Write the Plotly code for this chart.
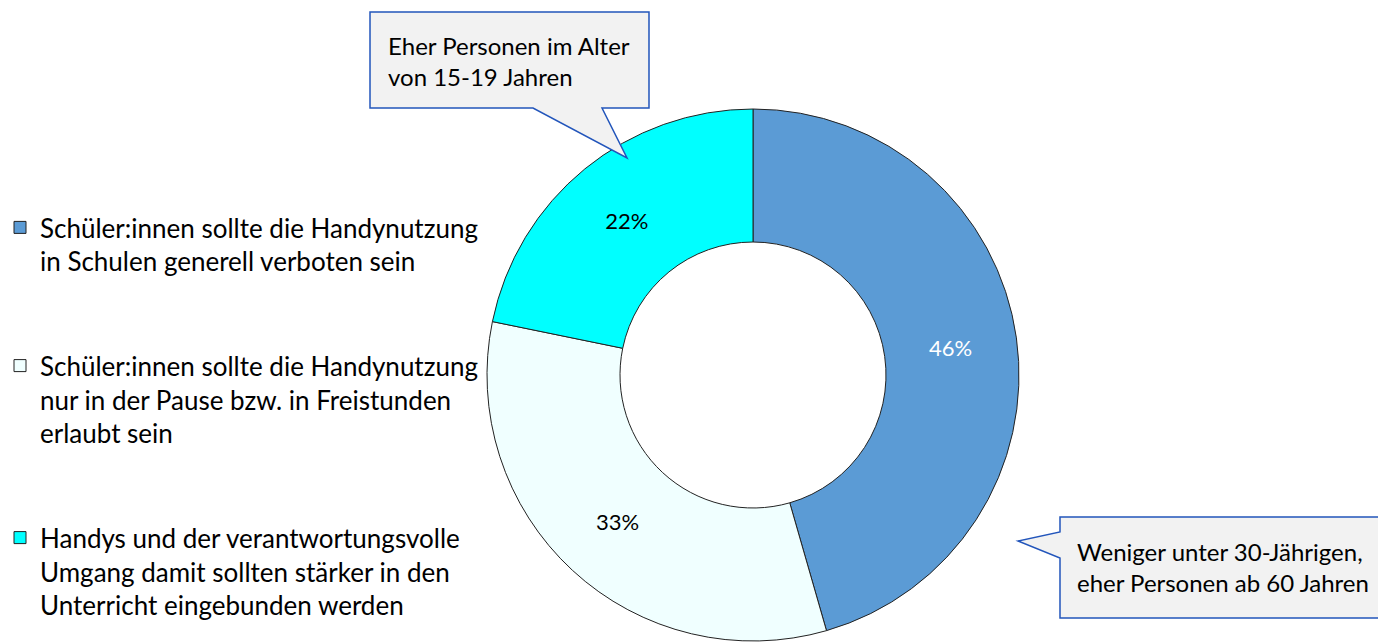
import plotly.graph_objects as go

# chart data
labels = [
    'Schüler:innen sollte die Handynutzung<br>in Schulen generell verboten sein<br> <br> ',
    'Schüler:innen sollte die Handynutzung<br>nur in der Pause bzw. in Freistunden<br>erlaubt sein<br> <br> ',
    'Handys und der verantwortungsvolle<br>Umgang damit sollten stärker in den<br>Unterricht eingebunden werden',
]
values = [46, 33, 22]
value_labels = ['46%', '33%', '22%']
colors = ['#5B9BD5', '#F0FFFF', '#00FFFF']
text_colors = ['white', 'black', 'black']

callout_top = 'Eher Personen im Alter<br>von 15-19 Jahren'
callout_right = 'Weniger unter 30-Jährigen,<br>eher Personen ab 60 Jahren'

W, H = 1378, 642
FONT = 'Lato, Open Sans, sans-serif'


def px(x, y):
    # pixel -> paper coords (margins are zero)
    return x / W, 1 - y / H


def path(points):
    parts = []
    for i, (x, y) in enumerate(points):
        a, b = px(x, y)
        parts.append(('M' if i == 0 else 'L') + ' %.5f %.5f' % (a, b))
    return ' '.join(parts) + ' Z'


fig = go.Figure(go.Pie(
    labels=labels, values=values, text=value_labels,
    textinfo='text', textposition='inside',
    insidetextfont={'color': text_colors, 'size': 22, 'family': FONT},
    marker={'colors': colors, 'line': {'color': '#222222', 'width': 1}},
    hole=0.5, sort=False, direction='clockwise', rotation=0,
    domain={'x': [(753 - 266) / W, (753 + 266) / W], 'y': [1 / H, 533 / H]},
))

# callout boxes
shapes = [
    dict(type='path', xref='paper', yref='paper',
         path=path([(370, 12), (649, 12), (649, 108), (602, 108), (627, 158), (533, 108), (370, 108)]),
         fillcolor='#F2F2F2', line={'color': '#2255BB', 'width': 1.5}, layer='above'),
    dict(type='path', xref='paper', yref='paper',
         path=path([(1060, 517), (1385, 517), (1385, 618), (1060, 618), (1060, 558), (1018, 541), (1060, 532)]),
         fillcolor='#F2F2F2', line={'color': '#2255BB', 'width': 1.5}, layer='above'),
]

annotations = [
    dict(text=callout_top, x=386 / W, y=1 - 29 / H, xref='paper', yref='paper',
         xanchor='left', yanchor='top', align='left', showarrow=False,
         font={'size': 24, 'family': FONT, 'color': 'black'}),
    dict(text=callout_right, x=1075 / W, y=1 - 535 / H, xref='paper', yref='paper',
         xanchor='left', yanchor='top', align='left', showarrow=False,
         font={'size': 24, 'family': FONT, 'color': 'black'}),
]

fig.update_layout(
    width=W, height=H,
    margin={'l': 0, 'r': 0, 't': 0, 'b': 0},
    paper_bgcolor='white', plot_bgcolor='white',
    font={'family': FONT, 'color': 'black'},
    shapes=shapes, annotations=annotations,
    legend={'x': 0, 'y': 1 - 204 / H, 'xanchor': 'left', 'yanchor': 'top',
            'font': {'size': 26, 'family': FONT, 'color': 'black'},
            'valign': 'top', 'traceorder': 'normal',
            'bgcolor': 'rgba(0,0,0,0)'},
)

# page has a default body margin; drop it so the figure sits at 0,0
fig.write_html('out.html', config={'displayModeBar': False},
               post_script="document.body.style.margin='0';")
